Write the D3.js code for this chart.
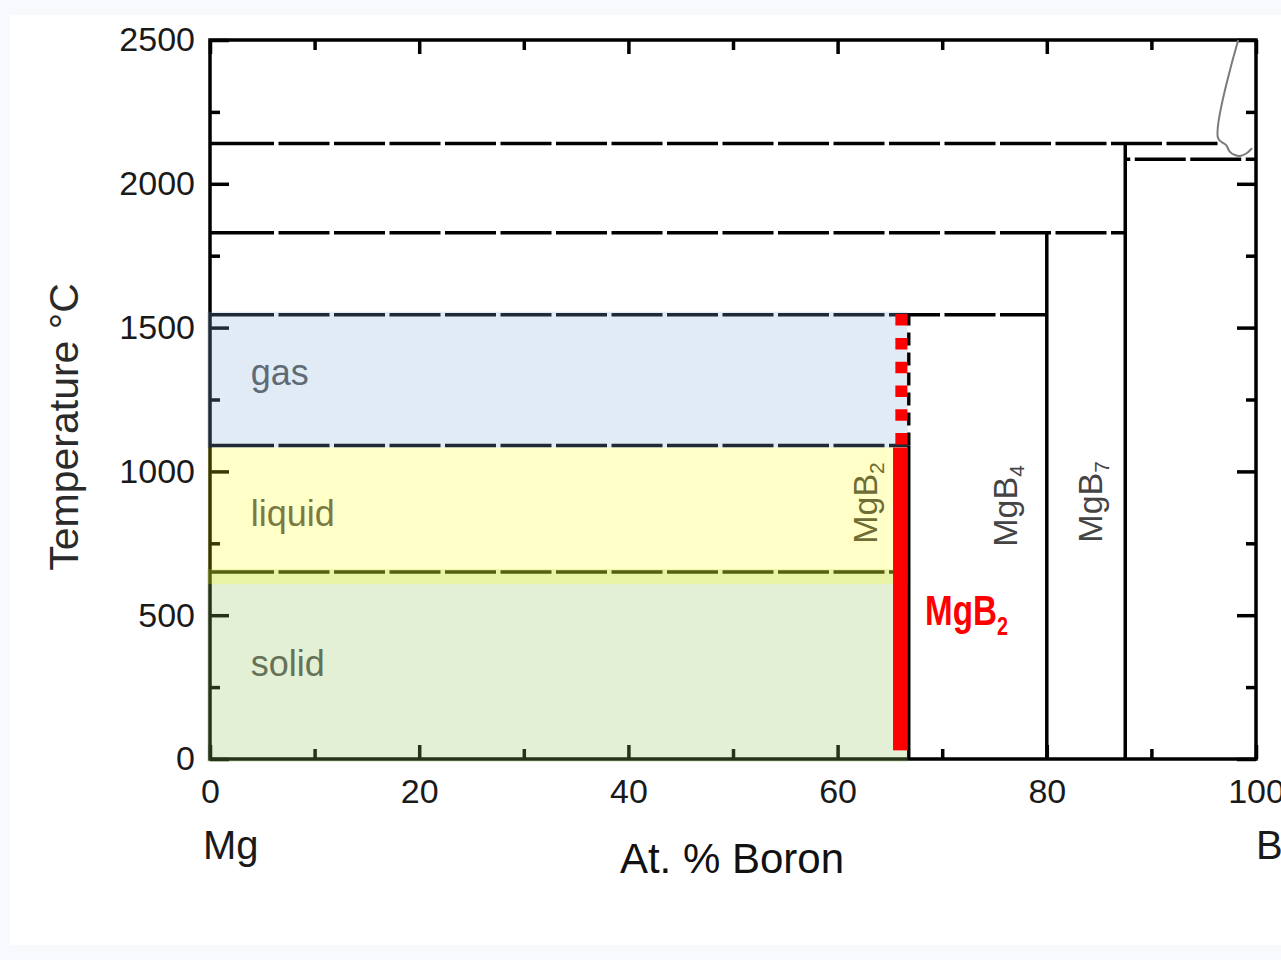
<!DOCTYPE html>
<html>
<head>
<meta charset="utf-8">
<script src="https://cdn.jsdelivr.net/npm/d3@7"></script>
<style>
  html, body { margin: 0; padding: 0; background: #f7f9fc; }
  svg { display: block; }
  text { font-family: "Liberation Sans", Arial, Helvetica, sans-serif; }
</style>
</head>
<body>
<svg id="chart" width="1281" height="960"></svg>
<script>
// ---- Mg–B phase diagram data ----
// composition axis (at.% B) and temperature axis (°C) ticks
const xMajorTicks = [0, 20, 40, 60, 80, 100];
const xMinorTicks = [10, 30, 50, 70, 90];
const yMajorTicks = [0, 500, 1000, 1500, 2000, 2500];
const yMinorTicks = [250, 750, 1250, 1750, 2250];

// states of Mg next to MgB2 (temperature ranges, °C)
const phaseNames = ["solid", "liquid", "gas"];
const phaseLow   = [0, 608, 1083];
const phaseHigh  = [660, 1083, 1555];
const phaseRightX = 66.7;

// invariant (horizontal) lines: temperature and composition span
const isoTemps = [2140, 2085, 1830, 1545, 1090, 650];
const isoFrom  = [0, 87.5, 0, 0, 0, 0];
const isoTo    = [96.6, 100, 87.5, 80, 66.7, 66];

// line compounds: composition and upper stability temperature
const compoundBase = ["MgB", "MgB", "MgB"];
const compoundSub  = ["2", "4", "7"];
const compoundX    = [66.8, 80, 87.5];
const compoundTop  = [1545, 1830, 2140];
const mgb2SolidTop = 1090;

// boron-rich liquidus
const liquidusX = [98.3, 96.37, 97.13, 97.51, 97.99, 98.47, 99.14, 99.62];
const liquidusT = [2500, 2159, 2135, 2111, 2100, 2097, 2107, 2124];

// highlighted MgB2 band: composition span, stable range, range with Mg vapour
const mgb2BandX   = [65.3, 66.7];
const mgb2StableT = [30, 1083];
const mgb2VaporT  = [1085, 1547];

// ---- scales ----
const svg = d3.select("#chart");
const x = d3.scaleLinear().domain([0, 100]).range([210, 1256]);
const y = d3.scaleLinear().domain([0, 2500]).range([759, 40]);

svg.append("rect").attr("x", 10).attr("y", 15).attr("width", 1271).attr("height", 930).attr("fill", "#ffffff");

const base = svg.append("g");

// phase names (tinted later by the translucent regions)
const phaseLabelT = { gas: 1300, liquid: 810, solid: 289 };
base.selectAll("text.phase").data(phaseNames).join("text")
  .attr("class", "phase")
  .attr("x", x(3.9))
  .attr("y", d => y(phaseLabelT[d]))
  .attr("font-size", 36)
  .attr("fill", "#555")
  .text(d => d);

// vertical compound labels
const compLabelX = [63.77, 77.15, 85.28];
const compLabelT = [890, 880, 894];
compoundBase.forEach((b, i) => {
  const t = base.append("text")
    .attr("transform", `translate(${x(compLabelX[i])},${y(compLabelT[i])}) rotate(-90)`)
    .attr("text-anchor", "middle")
    .attr("font-size", 34)
    .attr("fill", "#444");
  t.append("tspan").text(b);
  t.append("tspan").attr("font-size", 21).attr("dy", 7).text(compoundSub[i]);
});

const LW = 3.5;

// axes with inward ticks on all four sides
function styleAxis(g) {
  g.select(".domain").remove();
  g.selectAll(".tick line").attr("stroke", "#000").attr("stroke-width", LW);
  g.selectAll(".tick text").attr("font-size", 34).attr("fill", "#1a1a1a")
    .attr("font-family", "\"Liberation Sans\", Arial, sans-serif");
}
base.append("g").attr("transform", `translate(0,${y(0)})`)
  .call(d3.axisBottom(x).tickValues(xMajorTicks).tickSize(-14).tickPadding(20).tickFormat(d3.format("d")))
  .call(styleAxis);
base.append("g").attr("transform", `translate(0,${y(0)})`)
  .call(d3.axisBottom(x).tickValues(xMinorTicks).tickSize(-10).tickFormat(""))
  .call(styleAxis);
base.append("g").attr("transform", `translate(0,${y(2500)})`)
  .call(d3.axisTop(x).tickValues(xMajorTicks).tickSize(-14).tickFormat(""))
  .call(styleAxis);
base.append("g").attr("transform", `translate(0,${y(2500)})`)
  .call(d3.axisTop(x).tickValues(xMinorTicks).tickSize(-10).tickFormat(""))
  .call(styleAxis);
base.append("g").attr("transform", `translate(${x(0)},0)`)
  .call(d3.axisLeft(y).tickValues(yMajorTicks).tickSize(-19).tickPadding(15).tickFormat(d3.format("d")))
  .call(styleAxis);
base.append("g").attr("transform", `translate(${x(0)},0)`)
  .call(d3.axisLeft(y).tickValues(yMinorTicks).tickSize(-10).tickFormat(""))
  .call(styleAxis);
base.append("g").attr("transform", `translate(${x(100)},0)`)
  .call(d3.axisRight(y).tickValues(yMajorTicks).tickSize(-19).tickFormat(""))
  .call(styleAxis);
base.append("g").attr("transform", `translate(${x(100)},0)`)
  .call(d3.axisRight(y).tickValues(yMinorTicks).tickSize(-10).tickFormat(""))
  .call(styleAxis);

// plot frame
base.append("rect")
  .attr("x", x(0)).attr("y", y(2500))
  .attr("width", x(100) - x(0)).attr("height", y(0) - y(2500))
  .attr("fill", "none").attr("stroke", "#000").attr("stroke-width", LW);

// long-dash pattern for the invariant lines
function dashes(first) {
  const a = [first, 4.5];
  for (let i = 0; i < 26; i++) a.push(51, 4.5);
  return a.join(",");
}
isoTemps.forEach((t, i) => {
  base.append("line")
    .attr("x1", x(isoFrom[i])).attr("x2", x(isoTo[i]))
    .attr("y1", y(t)).attr("y2", y(t))
    .attr("stroke", "#000").attr("stroke-width", LW)
    .attr("stroke-dasharray", isoFrom[i] > 0 ? dashes(5) : dashes(64));
});

// compound lines
compoundX.forEach((cx, i) => {
  if (i === 0) {
    base.append("line")
      .attr("x1", x(cx)).attr("x2", x(cx))
      .attr("y1", y(0)).attr("y2", y(mgb2SolidTop))
      .attr("stroke", "#000").attr("stroke-width", LW);
    base.append("line")
      .attr("x1", x(cx)).attr("x2", x(cx))
      .attr("y1", y(mgb2SolidTop)).attr("y2", y(compoundTop[i]))
      .attr("stroke", "#000").attr("stroke-width", LW)
      .attr("stroke-dasharray", "13,7");
  } else {
    base.append("line")
      .attr("x1", x(cx)).attr("x2", x(cx))
      .attr("y1", y(0)).attr("y2", y(compoundTop[i]))
      .attr("stroke", "#000").attr("stroke-width", LW);
  }
});

// liquidus near pure boron
const liq = liquidusX.map((v, i) => [v, liquidusT[i]]);
base.append("path")
  .attr("d", d3.line().x(d => x(d[0])).y(d => y(d[1])).curve(d3.curveCatmullRom)(liq))
  .attr("fill", "none").attr("stroke", "#7a7a7a").attr("stroke-width", 2);

// translucent state regions laid over the lines
const phaseFill = {
  solid: "rgba(146,196,92,0.26)",
  liquid: "rgba(255,255,0,0.22)",
  gas: "rgba(127,171,215,0.245)"
};
phaseNames.forEach((p, i) => {
  const top = y(phaseHigh[i]);
  const bottom = phaseLow[i] === 0 ? y(0) + 3 : y(phaseLow[i]);
  svg.append("rect")
    .attr("x", x(0) - 3).attr("y", top)
    .attr("width", x(phaseRightX) - x(0) + 3).attr("height", bottom - top)
    .attr("fill", phaseFill[p]);
});

// MgB2 highlight
svg.append("rect")
  .attr("x", x(mgb2BandX[0])).attr("y", y(mgb2StableT[1]))
  .attr("width", x(mgb2BandX[1]) - x(mgb2BandX[0]))
  .attr("height", y(mgb2StableT[0]) - y(mgb2StableT[1]))
  .attr("fill", "#ff0000");
const bandMid = (x(mgb2BandX[0]) + x(mgb2BandX[1])) / 2 + 1;
svg.append("line")
  .attr("x1", bandMid).attr("x2", bandMid)
  .attr("y1", y(mgb2VaporT[1])).attr("y2", y(mgb2VaporT[0]))
  .attr("stroke", "#ff0000").attr("stroke-width", 12)
  .attr("stroke-dasharray", "11.5,12.3");

const red = svg.append("text")
  .attr("transform", `translate(${x(68.36)},${y(466)}) scale(0.79,1)`)
  .attr("font-size", 42).attr("font-weight", "bold").attr("fill", "#ff0000");
red.append("tspan").text("MgB");
red.append("tspan").attr("font-size", 25).attr("dy", 10).text("2");

// axis titles
svg.append("text").attr("x", 203).attr("y", 859)
  .attr("font-size", 40).attr("fill", "#1a1a1a").text("Mg");
svg.append("text").attr("x", 1256).attr("y", 859)
  .attr("font-size", 40).attr("fill", "#1a1a1a").text("B");
svg.append("text").attr("x", 732).attr("y", 873).attr("text-anchor", "middle")
  .attr("font-size", 42).attr("fill", "#111").text("At. % Boron");
svg.append("text")
  .attr("transform", "translate(78,427) rotate(-90)")
  .attr("text-anchor", "middle")
  .attr("font-size", 41).attr("fill", "#2a2a2a").text("Temperature °C");
</script>
</body>
</html>
